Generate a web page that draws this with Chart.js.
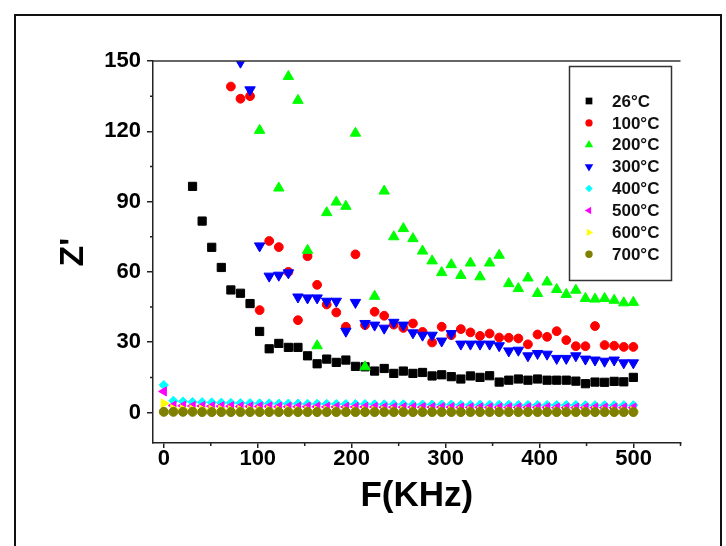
<!DOCTYPE html>
<html>
<head>
<meta charset="utf-8">
<script src="https://cdn.jsdelivr.net/npm/chart.js@4.4.1/dist/chart.umd.min.js"></script>
<style>
  html, body { margin: 0; padding: 0; background: #fff; }
  #wrap { width: 726px; height: 546px; }
</style>
</head>
<body>
<div id="wrap"><canvas id="myChart" width="726" height="546"></canvas></div>
<script>
// frequency grid (KHz), shared by all series
var freq = [0, 10.2, 20.4, 30.6, 40.8, 51, 61.2, 71.4, 81.6, 91.8,
            102, 112.2, 122.4, 132.6, 142.8, 153, 163.2, 173.4, 183.6, 193.8,
            204, 214.2, 224.4, 234.6, 244.8, 255, 265.2, 275.4, 285.6, 295.8,
            306, 316.2, 326.4, 336.6, 346.8, 357, 367.2, 377.4, 387.6, 397.8,
            408, 418.2, 428.4, 438.6, 448.8, 459, 469.2, 479.4, 489.6, 499.8];

var seriesLabels = ['26°C', '100°C', '200°C', '300°C', '400°C', '500°C', '600°C', '700°C'];

// Z' values, null = not shown (off scale)
var z26 = [null, null, null, 96.5, 81.7, 70.5, 61.9, 52.3, 50.9, 46.5,
           34.6, 27.2, 29.5, 27.8, 27.8, 24.2, 20.8, 22.8, 21.4, 22.4,
           19.7, 19.5, 17.7, 18.8, 16.7, 17.7, 16.7, 17.1, 15.6, 16.1,
           15.3, 14.3, 15.6, 15.0, 15.7, 13.0, 13.8, 14.3, 13.8, 14.3,
           13.8, 13.8, 13.8, 13.4, 12.3, 13.0, 12.9, 13.3, 13.1, 15.0];
var z100 = [null, null, null, null, null, null, null, 139.1, 133.9, 135.0,
            43.7, 73.2, 70.6, 60.0, 39.4, 66.7, 54.5, 46.1, 42.7, 36.6,
            67.5, 37.3, 43.0, 41.3, 37.5, 36.1, 38.0, 34.4, 29.9, 36.6,
            33.0, 35.6, 34.2, 32.7, 33.7, 32.0, 31.9, 31.6, 29.1, 33.3,
            32.3, 34.7, 30.9, 28.3, 28.3, 36.9, 28.8, 28.5, 28.0, 28.0];
var z200 = [null, null, null, null, null, null, null, null, null, null,
            120.4, null, 95.8, 143.4, 133.2, 69.2, 28.5, 85.3, 89.8, 88.0,
            119.2, 19.5, 49.6, 94.5, 75.0, 78.5, 74.2, 68.9, 64.7, 59.7,
            63.1, 58.5, 63.8, 57.9, 63.8, 67.1, 55.0, 52.9, 57.4, 50.8,
            55.7, 52.5, 50.4, 52.2, 48.7, 48.4, 48.7, 47.9, 46.8, 47.0];
var z300 = [null, null, null, null, null, null, null, null, 149.5, 137.7,
            71.1, 58.2, 58.6, 59.6, 49.3, 48.9, 48.9, 47.5, 47.5, 34.7,
            47.0, 38.0, 37.3, 36.0, 38.5, 37.3, 34.0, 33.0, 33.0, 30.5,
            33.7, 29.2, 29.2, 29.2, 29.2, 28.5, 26.3, 26.6, 24.2, 25.2,
            24.9, 23.1, 23.1, 24.2, 22.8, 22.4, 21.9, 22.4, 21.2, 21.2];
var z400 = [11.7, 5.0, 4.7, 4.5, 4.4, 4.3, 4.2, 4.1, 4.0, 4.0,
            3.9, 3.9, 3.8, 3.8, 3.8, 3.7, 3.7, 3.7, 3.6, 3.6,
            3.6, 3.6, 3.5, 3.5, 3.5, 3.5, 3.4, 3.4, 3.4, 3.4,
            3.4, 3.3, 3.3, 3.3, 3.3, 3.3, 3.3, 3.2, 3.2, 3.2,
            3.2, 3.2, 3.2, 3.2, 3.1, 3.1, 3.1, 3.1, 3.1, 3.1];
var z500 = [9.0, 3.0, 2.9, 2.8, 2.8, 2.7, 2.7, 2.7, 2.6, 2.6,
            2.6, 2.6, 2.5, 2.5, 2.5, 2.5, 2.5, 2.4, 2.4, 2.4,
            2.4, 2.4, 2.4, 2.3, 2.3, 2.3, 2.3, 2.3, 2.3, 2.3,
            2.3, 2.2, 2.2, 2.2, 2.2, 2.2, 2.2, 2.2, 2.2, 2.2,
            2.2, 2.1, 2.1, 2.1, 2.1, 2.1, 2.1, 2.1, 2.1, 2.1];
var z600 = [3.9, 1.5, 1.4, 1.3, 1.3, 1.2, 1.2, 1.1, 1.1, 1.1,
            1.0, 1.0, 1.0, 1.0, 0.9, 0.9, 0.9, 0.9, 0.9, 0.8,
            0.8, 0.8, 0.8, 0.8, 0.8, 0.8, 0.7, 0.7, 0.7, 0.7,
            0.7, 0.7, 0.7, 0.7, 0.7, 0.6, 0.6, 0.6, 0.6, 0.6,
            0.6, 0.6, 0.6, 0.6, 0.6, 0.6, 0.6, 0.6, 0.6, 0.6];
var z700 = [0.3, 0.3, 0.3, 0.3, 0.2, 0.2, 0.2, 0.2, 0.2, 0.2,
            0.2, 0.2, 0.2, 0.2, 0.2, 0.2, 0.2, 0.2, 0.2, 0.2,
            0.2, 0.2, 0.2, 0.2, 0.2, 0.2, 0.2, 0.2, 0.2, 0.2,
            0.2, 0.2, 0.2, 0.2, 0.2, 0.2, 0.2, 0.2, 0.2, 0.2,
            0.2, 0.2, 0.2, 0.2, 0.2, 0.2, 0.2, 0.2, 0.2, 0.2];

var xTicks = [0, 50, 100, 150, 200, 250, 300, 350, 400, 450, 500, 550];
var yTicks = [0, 15, 30, 45, 60, 75, 90, 105, 120, 135, 150];

var seriesValues = [z26, z100, z200, z300, z400, z500, z600, z700];
var colors = ['#000000', '#ff0000', '#00ff00', '#0000ff', '#00ffff', '#ff00ff', '#ffff00', '#808000'];
var styles = ['rect', 'circle', 'triangle', 'triangle', 'rectRot', 'triangle', 'triangle', 'circle'];
var rotations = [0, 0, 0, 180, 0, 270, 90, 0];
var radii = [5.8, 4.4, 6, 6, 4.6, 5.2, 5.2, 4.5];

function toPoints(vals) {
    var out = [];
    for (var i = 0; i < freq.length; i++) {
        if (vals[i] !== null) out.push({ x: freq[i], y: vals[i] });
    }
    return out;
}

var datasets = seriesValues.map(function(vals, k) {
    return {
        label: seriesLabels[k],
        data: toPoints(vals),
        showLine: false,
        pointStyle: styles[k],
        rotation: rotations[k],
        pointRadius: radii[k],
        pointHoverRadius: radii[k],
        pointBackgroundColor: colors[k],
        pointBorderColor: colors[k],
        pointBorderWidth: 1,
        // later temperatures sit on top, as in the original plot
        order: seriesValues.length - k
    };
});

var FONT = "'Liberation Sans', Arial, sans-serif";
var AXIS = '#222';

// labelled ticks get the normal tick, the in-between ones a short one
function majorOnly(step) {
    return function(c) { return c.tick && c.tick.value % step === 0 ? AXIS : 'rgba(0,0,0,0)'; };
}

var framePlugin = {
    id: 'frame',
    beforeDraw: function(chart) {
        var ctx = chart.ctx;
        ctx.save();
        ctx.fillStyle = '#fff';
        ctx.fillRect(0, 0, chart.width, chart.height);
        ctx.restore();
    },
    afterDraw: function(chart) {
        var ctx = chart.ctx, a = chart.chartArea;
        var xs = chart.scales.x, ys = chart.scales.y;
        ctx.save();
        // outer frame
        ctx.strokeStyle = '#111';
        ctx.lineWidth = 2;
        ctx.strokeRect(15, 15, 706, 600);
        // top edge of plot
        ctx.strokeStyle = '#333';
        ctx.lineWidth = 1.5;
        ctx.beginPath();
        ctx.moveTo(a.left, a.top);
        ctx.lineTo(a.right, a.top);
        ctx.stroke();

        // short minor ticks
        ctx.strokeStyle = AXIS;
        ctx.beginPath();
        xTicks.forEach(function(v) {
            if (v % 100 === 0) return;
            var px = xs.getPixelForValue(v);
            ctx.moveTo(px, a.bottom);
            ctx.lineTo(px, a.bottom + 3);
        });
        yTicks.forEach(function(v) {
            if (v % 30 === 0) return;
            var py = ys.getPixelForValue(v);
            ctx.moveTo(a.left, py);
            ctx.lineTo(a.left - 3, py);
        });
        ctx.stroke();

        // legend box
        ctx.strokeStyle = '#333';
        ctx.lineWidth = 1.5;
        ctx.strokeRect(569.5, 66.5, 102, 214);
        ctx.font = "bold 17px " + FONT;
        ctx.textBaseline = 'middle';
        ctx.textAlign = 'left';
        chart.data.datasets.forEach(function(ds, k) {
            var y = 101 + k * 21.9;
            ctx.fillStyle = colors[k];
            ctx.strokeStyle = colors[k];
            Chart.helpers.drawPoint(ctx, {
                pointStyle: styles[k],
                rotation: rotations[k],
                radius: radii[k] * 0.82,
                borderWidth: 0
            }, 589, y);
            ctx.fillStyle = '#111';
            ctx.fillText(ds.label, 612, y + 1);
        });
        ctx.restore();
    }
};

new Chart(document.getElementById('myChart'), {
    type: 'scatter',
    data: { datasets: datasets },
    options: {
        responsive: false,
        devicePixelRatio: 1,
        animation: false,
        layout: { padding: { top: 61, right: 45.5, left: 0, bottom: 0 } },
        plugins: {
            legend: { display: false },
            tooltip: { enabled: false }
        },
        scales: {
            x: {
                type: 'linear',
                min: -11.5,
                max: 550,
                afterBuildTicks: function(scale) {
                    scale.ticks = xTicks.map(function(v) { return { value: v }; });
                },
                afterFit: function(scale) { scale.height = 103; },
                ticks: {
                    autoSkip: false,
                    maxRotation: 0,
                    padding: 0,
                    color: '#000',
                    font: { family: FONT, size: 22, weight: 'bold', lineHeight: 1 },
                    callback: function(v) { return v % 100 === 0 ? v : ''; }
                },
                grid: { drawOnChartArea: false, tickLength: 5, color: AXIS, tickColor: majorOnly(100), lineWidth: 1.5 },
                border: { color: AXIS, width: 1.5 },
                title: {
                    display: true,
                    text: 'F(KHz)',
                    color: '#000',
                    font: { family: FONT, size: 35, weight: 'bold' },
                    padding: { top: 0, bottom: 29 }
                }
            },
            y: {
                type: 'linear',
                min: -13,
                max: 150,
                afterBuildTicks: function(scale) {
                    scale.ticks = yTicks.map(function(v) { return { value: v }; });
                },
                afterFit: function(scale) { scale.width = 153; },
                ticks: {
                    autoSkip: false,
                    padding: 6,
                    color: '#000',
                    font: { family: FONT, size: 22, weight: 'bold' },
                    callback: function(v) { return v % 30 === 0 ? v : ''; }
                },
                grid: { drawOnChartArea: false, tickLength: 6, color: AXIS, tickColor: majorOnly(30), lineWidth: 1.5 },
                border: { color: AXIS, width: 1.5 },
                title: {
                    display: true,
                    text: "Z'",
                    color: '#000',
                    font: { family: FONT, size: 34, weight: 'bold' },
                    padding: { top: 53, bottom: 0 }
                }
            }
        }
    },
    plugins: [framePlugin]
});
</script>
</body>
</html>
